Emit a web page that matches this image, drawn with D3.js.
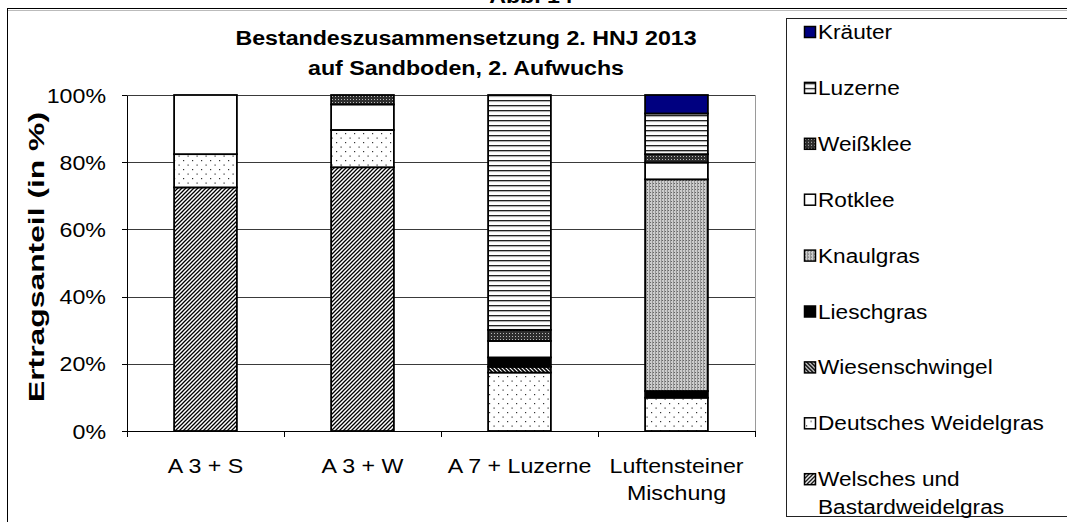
<!DOCTYPE html>
<html lang="de">
<head>
<meta charset="utf-8">
<title>Bestandeszusammensetzung 2. HNJ 2013</title>
<script src="https://cdn.jsdelivr.net/npm/d3@7/dist/d3.min.js"></script>
<style>
body { margin: 0; background: #fff; }
svg { display: block; }
text { font-family: Arial, "Liberation Sans", sans-serif; fill: #000; }
.axis path, .axis line { stroke: #000; shape-rendering: crispEdges; }
.grid line { stroke: #3a3a3a; shape-rendering: crispEdges; }
</style>
</head>
<body>
<svg width="1067" height="522"></svg>
<script>

// data (percent of yield)
var categories = ["A 3 + S", "A 3 + W", "A 7 + Luzerne", "Luftensteiner Mischung"];
var series = ["Welsches und Bastardweidelgras", "Deutsches Weidelgras", "Wiesenschwingel",
  "Lieschgras", "Knaulgras", "Rotklee", "Weißklee", "Luzerne", "Kräuter"];
var welsches   = [72.5, 78.5, 0,    0];
var deutsches  = [9.9,  11.1, 17.4, 9.9];
var wiesen     = [0,    0,    1.7,  0];
var liesch     = [0,    0,    2.8,  2.0];
var knaul      = [0,    0,    0,    63.0];
var rotklee    = [17.6, 7.6,  4.9,  5.0];
var weissklee  = [0,    2.8,  3.3,  2.5];
var luzerne    = [0,    0,    69.9, 12.1];
var kraeuter   = [0,    0,    0,    5.5];
var yTicks = [0, 0.2, 0.4, 0.6, 0.8, 1];

var values = [welsches, deutsches, wiesen, liesch, knaul, rotklee, weissklee, luzerne, kraeuter];
var table = categories.map(function(c, i) {
  var row = { cat: c };
  series.forEach(function(s, j) { row[s] = values[j][i] / 100; });
  return row;
});

var SX = 1.16; // the original picture is a bit wider than tall
var svg = d3.select("svg");
var margin = { top: 95, left: 127, right: 312, bottom: 91 };
var width = 1067 - margin.left - margin.right,
    height = 522 - margin.top - margin.bottom;

function stretch(sel) {
  sel.each(function() {
    var t = d3.select(this);
    var x = +t.attr("x") || 0, y = +t.attr("y") || 0;
    t.attr("transform", "translate(" + x + "," + y + ") scale(" + SX + ",1)")
     .attr("x", 0).attr("y", 0);
  });
}

// patterns
var defs = svg.append("defs");
function pattern(id, w, h, bg) {
  var p = defs.append("pattern").attr("id", id).attr("patternUnits", "userSpaceOnUse")
    .attr("width", w).attr("height", h);
  p.append("rect").attr("width", w).attr("height", h).attr("fill", bg);
  return p;
}
var p1 = pattern("p-welsch", 4, 4, "#fff");
p1.append("path").attr("d", "M-1,1 l2,-2 M0,4 l4,-4 M3,5 l2,-2").attr("stroke", "#000").attr("stroke-width", 1.3);
var p2 = pattern("p-deutsch", 9, 9, "#fff");
p2.append("rect").attr("x", 2).attr("y", 2).attr("width", 1.2).attr("height", 1.2).attr("fill", "#333");
p2.append("rect").attr("x", 6.5).attr("y", 6.5).attr("width", 1.2).attr("height", 1.2).attr("fill", "#333");
var p3 = pattern("p-wiesen", 4, 4, "#fff");
p3.append("path").attr("d", "M-1,3 l2,2 M0,0 l4,4 M3,-1 l2,2").attr("stroke", "#000").attr("stroke-width", 1.6);
var p4 = pattern("p-knaul", 3, 3, "#cdcdcd");
p4.append("rect").attr("x", 0).attr("y", 0).attr("width", 1).attr("height", 3).attr("fill", "#949494");
p4.append("rect").attr("x", 1).attr("y", 1).attr("width", 1).attr("height", 1).attr("fill", "#666");
var p5 = pattern("p-weiss", 3, 3, "#2e2e2e");
p5.append("rect").attr("x", 1).attr("y", 1).attr("width", 1).attr("height", 1).attr("fill", "#bbb");
var p6 = pattern("p-luz", 5, 5, "#fff");
p6.append("rect").attr("y", 0).attr("width", 5).attr("height", 1.3).attr("fill", "#222");
p6.append("rect").attr("y", 1.3).attr("width", 5).attr("height", 0.8).attr("fill", "#aaa");

var fills = {
  "Welsches und Bastardweidelgras": "url(#p-welsch)",
  "Deutsches Weidelgras": "url(#p-deutsch)",
  "Wiesenschwingel": "url(#p-wiesen)",
  "Lieschgras": "#000",
  "Knaulgras": "url(#p-knaul)",
  "Rotklee": "#fff",
  "Weißklee": "url(#p-weiss)",
  "Luzerne": "url(#p-luz)",
  "Kräuter": "#000080"
};

// outer frame of the figure and legend box
svg.append("line").attr("x1", 7.5).attr("x2", 7.5).attr("y1", 8.5).attr("y2", 522).attr("stroke", "#000");
svg.append("line").attr("x1", 7).attr("x2", 1067).attr("y1", 8.5).attr("y2", 8.5).attr("stroke", "#000").attr("stroke-width", 1.2);
svg.append("line").attr("x1", 8).attr("x2", 1067).attr("y1", 10.5).attr("y2", 10.5).attr("stroke", "#bbb");
svg.append("text").attr("x", 531).attr("y", 3).attr("text-anchor", "middle")
  .style("font-weight", "bold").style("font-size", "20px").text("Abb. 14").call(stretch);

// title
var title = svg.append("g").style("font-weight", "bold").style("font-size", "20px").attr("text-anchor", "middle");
title.append("text").attr("x", 466).attr("y", 45).text("Bestandeszusammensetzung 2. HNJ 2013").call(stretch);
title.append("text").attr("x", 466).attr("y", 75).text("auf Sandboden, 2. Aufwuchs").call(stretch);

var g = svg.append("g").attr("transform", "translate(" + margin.left + "," + margin.top + ")");

var x = d3.scaleBand().domain(categories).range([0, width]).paddingInner(0.6).paddingOuter(0.3);
var y = d3.scaleLinear().domain([0, 1]).range([height, 0]);

// gridlines and plot border
g.append("g").attr("class", "grid").selectAll("line").data(yTicks.slice(1)).enter().append("line")
  .attr("x1", 0).attr("x2", width)
  .attr("y1", function(d) { return Math.round(y(d)) + 0.5; })
  .attr("y2", function(d) { return Math.round(y(d)) + 0.5; })
  .attr("stroke", function(d) { return d == 1 ? "#9a9a9a" : "#3a3a3a"; });
g.append("line").attr("x1", width + 0.5).attr("x2", width + 0.5).attr("y1", 0).attr("y2", height)
  .attr("stroke", "#9a9a9a");

// stacked bars
var stack = d3.stack().keys(series);
var layers = g.append("g").selectAll("g").data(stack(table)).enter().append("g")
  .attr("fill", function(d) { return fills[d.key]; });
layers.selectAll("rect").data(function(d) { return d.filter(function(s) { return s[1] - s[0] > 0; }); })
  .enter().append("rect")
  .attr("x", function(d) { return x(d.data.cat); })
  .attr("width", x.bandwidth())
  .attr("y", function(d) { return y(d[1]); })
  .attr("height", function(d) { return y(d[0]) - y(d[1]); })
  .attr("stroke", "#000").attr("stroke-width", 1.8);

// y axis
var yAxis = g.append("g").attr("class", "axis")
  .call(d3.axisLeft(y).tickValues(yTicks).tickFormat(d3.format(".0%")).tickSize(5).tickSizeOuter(0));
yAxis.selectAll("text").style("font-size", "20px").style("font-family", null)
  .attr("dy", "0.35em").attr("x", -21).call(stretch);

// x axis: labels under bands, ticks on band boundaries
var xAxis = g.append("g").attr("class", "axis").attr("transform", "translate(0," + height + ")")
  .call(d3.axisBottom(x).tickSize(0).tickSizeOuter(0));
xAxis.select(".domain").attr("d", "M-5,0.5H" + (width + 1));
xAxis.selectAll(".tick text").remove();
xAxis.selectAll(".tick").each(function(d) {
  var lines = d == "Luftensteiner Mischung" ? ["Luftensteiner", "Mischung"] : [d];
  var sel = d3.select(this);
  lines.forEach(function(l, i) {
    sel.append("text").attr("y", 42 + i * 27).attr("text-anchor", "middle")
      .style("font-size", "20px").text(l).call(stretch);
  });
});
var bounds = categories.map(function(c) { return x(c) - x.step() * x.paddingInner() / 2; });
bounds.push(width);
xAxis.selectAll(".bound").data(bounds).enter().append("line").attr("class", "bound")
  .attr("x1", function(d) { return Math.round(d) + 0.5; }).attr("x2", function(d) { return Math.round(d) + 0.5; })
  .attr("y1", 0).attr("y2", 6).attr("stroke", "#000");

// y axis title
svg.append("text").attr("transform", "translate(44,257) rotate(-90)").attr("text-anchor", "middle")
  .attr("textLength", 290).attr("lengthAdjust", "spacingAndGlyphs")
  .style("font-weight", "bold").style("font-size", "22px").text("Ertragsanteil (in %)");

// legend
var legend = svg.append("g");
legend.append("rect").attr("x", 786.5).attr("y", 18.5).attr("width", 300).attr("height", 498)
  .attr("fill", "none").attr("stroke", "#222");
var legendItems = series.slice().reverse();
var item = legend.selectAll(".item").data(legendItems).enter().append("g")
  .attr("transform", function(d, i) { return "translate(804," + (32 + 55.9 * i) + ")"; });
item.append("rect").attr("x", 0.5).attr("y", -5.5).attr("width", 11).attr("height", 11)
  .attr("fill", function(d) { return fills[d]; }).attr("stroke", "#000").attr("stroke-width", 1.5);
item.each(function(d) {
  var lines = d == "Welsches und Bastardweidelgras" ? ["Welsches und", "Bastardweidelgras"] : [d];
  var sel = d3.select(this);
  lines.forEach(function(l, i) {
    sel.append("text").attr("x", 14).attr("y", 7 + i * 28).style("font-size", "19.5px").text(l).call(stretch);
  });
});

</script>
</body>
</html>
